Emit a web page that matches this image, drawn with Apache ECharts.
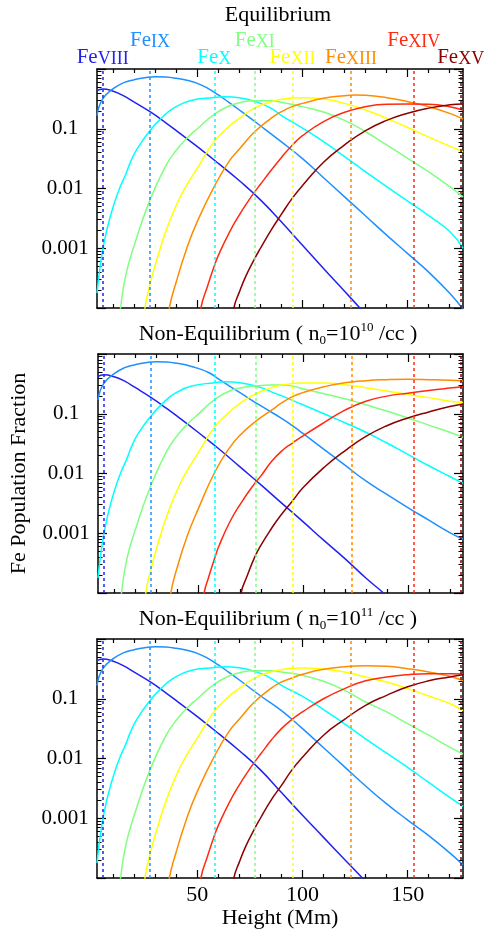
<!DOCTYPE html>
<html><head><meta charset="utf-8">
<script src="https://cdn.jsdelivr.net/npm/echarts@6/dist/echarts.min.js"></script>
<style>html,body{margin:0;padding:0;background:#fff}#chart{width:486px;height:931px}</style>
</head><body><div id="chart"></div>
<script>
// ---------------- data (x = height in Mm, second value = log10 of population fraction) -------------
const ionNumerals = ['VIII','IX','X','XI','XII','XIII','XIV','XV'];
const ionColors = ['#2222f0','#1e90ff','#00ffff','#80ff80','#ffff00','#ff8c00','#ff2a10','#8b0000'];
const formationHeights = [5.0, 27.5, 58.1, 77.3, 95.2, 123.1, 152.9, 175.2];
const labelUpperRow = [false, true, false, true, false, false, true, false];

const xMajorTicks = [50, 100, 150];
const xMinorTicks = [10,20,30,40,60,70,80,90,110,120,130,140,160,170];
const yMajorTicks = [1e-4, 1e-3, 1e-2, 1e-1, 1];
const yLabelValues = [0.001, 0.01, 0.1];
const yLabelTexts = ['0.001', '0.01', '0.1'];

// Panel 1 : Equilibrium
const eq_FeVIII = [[2.3,-0.363],[5,-0.335],[10,-0.373],[15,-0.45],[20,-0.555],[27.5,-0.715],[35,-0.90],[40,-1.03],[50,-1.30],[60,-1.58],[70,-1.87],[80,-2.19],[90,-2.56],[100,-2.95],[110,-3.34],[120,-3.72],[127.3,-4.0],[132,-4.18]];
const eq_FeIX = [[2.3,-0.78],[5,-0.50],[10,-0.33],[15,-0.229],[20,-0.179],[25,-0.145],[30,-0.128],[35,-0.134],[40,-0.156],[45,-0.19],[50,-0.24],[55,-0.324],[60,-0.435],[65,-0.558],[70,-0.686],[80,-0.95],[90,-1.22],[100,-1.50],[110,-1.82],[120,-2.14],[130,-2.46],[140,-2.78],[150,-3.09],[160,-3.40],[170,-3.755],[176.3,-4.02]];
const eq_FeX = [[2.3,-3.75],[4,-3.25],[6,-2.85],[8,-2.55],[10.4,-2.26],[13,-2.0],[16,-1.76],[18.3,-1.55],[21.5,-1.33],[27.5,-1.03],[33,-0.82],[38.9,-0.65],[46.5,-0.53],[58,-0.475],[63,-0.463],[70,-0.48],[80,-0.575],[87,-0.70],[90,-0.78],[100,-0.99],[110,-1.216],[120,-1.467],[130,-1.72],[140,-1.97],[150,-2.21],[160,-2.455],[170,-2.72],[176.3,-3.0]];
const eq_FeXI = [[12,-4.5],[13.5,-4.0],[16,-3.45],[20,-2.95],[27.5,-2.19],[35,-1.62],[40,-1.36],[45,-1.16],[50,-1.0],[58,-0.76],[65,-0.62],[70,-0.565],[77,-0.53],[85,-0.53],[90,-0.555],[100,-0.63],[110,-0.72],[120,-0.86],[130,-1.05],[140,-1.27],[150,-1.495],[160,-1.72],[170,-1.97],[176.3,-2.14]];
const eq_FeXII = [[23.5,-4.6],[25.1,-4.0],[27.5,-3.6],[30,-3.28],[35,-2.72],[40,-2.28],[45,-1.94],[50,-1.66],[58,-1.216],[65,-0.965],[70,-0.826],[77,-0.658],[85,-0.55],[90,-0.508],[95,-0.485],[100,-0.48],[110,-0.502],[120,-0.575],[130,-0.686],[140,-0.826],[150,-0.98],[160,-1.14],[170,-1.29],[176.3,-1.385]];
const eq_FeXIII = [[35,-4.5],[36.7,-4.0],[40,-3.56],[45,-3.0],[50,-2.55],[58,-1.97],[65,-1.55],[70,-1.34],[77,-1.06],[85,-0.826],[90,-0.714],[95,-0.63],[100,-0.575],[110,-0.491],[120,-0.446],[125,-0.435],[130,-0.44],[140,-0.48],[150,-0.547],[160,-0.63],[170,-0.742],[176.3,-0.837]];
const eq_FeXIV = [[50,-4.6],[51.7,-4.0],[55,-3.62],[58,-3.30],[60,-3.12],[65,-2.75],[70,-2.44],[75,-2.17],[77,-2.07],[80,-1.93],[85,-1.70],[90,-1.48],[95,-1.28],[100,-1.116],[110,-0.88],[120,-0.725],[130,-0.63],[140,-0.59],[150,-0.586],[160,-0.59],[170,-0.63],[176.3,-0.686]];
const eq_FeXV = [[66,-4.5],[67.4,-4.0],[70,-3.73],[73,-3.47],[77,-3.19],[80,-3.0],[85,-2.70],[90,-2.43],[95,-2.17],[100,-1.95],[110,-1.56],[120,-1.27],[130,-1.03],[140,-0.86],[150,-0.74],[160,-0.655],[170,-0.60],[176.3,-0.585]];

// Panel 2 : Non-Equilibrium n0 = 1e10 /cc
const ne10_FeVIII = [[2.3,-0.375],[5,-0.346],[10,-0.38],[15,-0.455],[20,-0.56],[27.5,-0.725],[35,-0.91],[40,-1.04],[50,-1.31],[60,-1.59],[70,-1.89],[80,-2.19],[90,-2.50],[100,-2.806],[110,-3.12],[120,-3.425],[130,-3.75],[138.4,-4.0],[142,-4.12]];
const ne10_FeIX = [[2.3,-0.77],[5,-0.497],[10,-0.33],[15,-0.229],[20,-0.179],[25,-0.145],[30,-0.128],[35,-0.134],[40,-0.156],[45,-0.19],[50,-0.24],[55,-0.31],[60,-0.424],[65,-0.536],[70,-0.647],[80,-0.87],[90,-1.08],[95,-1.20],[100,-1.33],[110,-1.595],[120,-1.86],[130,-2.125],[140,-2.35],[150,-2.57],[160,-2.78],[170,-2.99],[176.3,-3.10]];
const ne10_FeX = [[2.3,-3.75],[4,-3.25],[6,-2.85],[8,-2.55],[10.4,-2.26],[13,-2.0],[16,-1.76],[18.3,-1.55],[21.5,-1.33],[27.5,-1.04],[33,-0.83],[38.9,-0.66],[46.5,-0.54],[58,-0.48],[63,-0.465],[70,-0.48],[80,-0.563],[87,-0.664],[90,-0.70],[100,-0.85],[110,-1.00],[120,-1.15],[130,-1.31],[140,-1.49],[150,-1.68],[160,-1.87],[170,-2.05],[176.3,-2.165]];
const ne10_FeXI = [[12,-4.5],[13.5,-4.0],[16,-3.44],[20,-2.95],[27.5,-2.20],[35,-1.63],[40,-1.37],[45,-1.17],[50,-1.01],[58,-0.76],[65,-0.62],[70,-0.569],[77,-0.536],[85,-0.52],[90,-0.52],[95,-0.536],[100,-0.58],[110,-0.664],[120,-0.748],[130,-0.85],[140,-0.955],[150,-1.07],[160,-1.19],[170,-1.31],[176.3,-1.395]];
const ne10_FeXII = [[23.5,-4.6],[25.1,-4.0],[27.5,-3.61],[30,-3.28],[35,-2.72],[40,-2.28],[45,-1.94],[50,-1.66],[58,-1.216],[65,-0.97],[70,-0.826],[77,-0.675],[85,-0.563],[90,-0.52],[100,-0.485],[110,-0.485],[120,-0.513],[130,-0.563],[140,-0.62],[150,-0.675],[160,-0.73],[170,-0.79],[176.3,-0.81]];
const ne10_FeXIII = [[35.3,-4.5],[37,-4.0],[40,-3.58],[45,-3.03],[50,-2.60],[58,-1.975],[65,-1.57],[70,-1.36],[77,-1.14],[85,-0.94],[90,-0.815],[95,-0.714],[100,-0.647],[110,-0.547],[120,-0.48],[130,-0.446],[140,-0.43],[150,-0.424],[160,-0.43],[170,-0.44],[176.3,-0.452]];
const ne10_FeXIV = [[51.3,-4.5],[52.9,-4.0],[55,-3.74],[58,-3.41],[60,-3.21],[65,-2.82],[70,-2.52],[77,-2.165],[80,-2.04],[85,-1.80],[90,-1.62],[95,-1.49],[100,-1.37],[110,-1.15],[120,-0.94],[130,-0.79],[140,-0.705],[150,-0.655],[160,-0.61],[170,-0.57],[176.3,-0.547]];
const ne10_FeXV = [[69,-4.5],[70.5,-4.0],[73,-3.75],[77,-3.40],[80,-3.20],[85,-2.92],[89,-2.72],[95,-2.46],[100,-2.24],[110,-1.90],[120,-1.62],[130,-1.38],[140,-1.20],[150,-1.07],[160,-0.97],[170,-0.88],[176.3,-0.837]];

// Panel 3 : Non-Equilibrium n0 = 1e11 /cc
const ne11_FeVIII = [[2.3,-0.363],[5,-0.335],[10,-0.373],[15,-0.45],[20,-0.555],[27.5,-0.715],[35,-0.90],[40,-1.03],[50,-1.30],[60,-1.58],[70,-1.87],[80,-2.19],[90,-2.57],[100,-2.95],[110,-3.32],[120,-3.69],[128.5,-4.0],[132,-4.13]];
const ne11_FeIX = [[2.3,-0.78],[5,-0.50],[10,-0.33],[15,-0.229],[20,-0.179],[25,-0.145],[30,-0.128],[35,-0.134],[40,-0.156],[45,-0.19],[50,-0.24],[55,-0.324],[60,-0.435],[65,-0.558],[70,-0.686],[80,-0.95],[90,-1.20],[100,-1.50],[110,-1.82],[120,-2.14],[130,-2.46],[140,-2.76],[150,-3.03],[160,-3.29],[170,-3.58],[176.3,-3.78]];
const ne11_FeX = [[2.3,-3.75],[4,-3.25],[6,-2.85],[8,-2.55],[10.4,-2.26],[13,-2.0],[16,-1.76],[18.3,-1.55],[21.5,-1.33],[27.5,-1.03],[33,-0.82],[38.9,-0.65],[46.5,-0.53],[58,-0.475],[63,-0.463],[70,-0.48],[80,-0.575],[87,-0.70],[90,-0.775],[100,-0.96],[110,-1.18],[120,-1.42],[130,-1.67],[140,-1.91],[150,-2.15],[160,-2.40],[170,-2.65],[176.3,-2.80]];
const ne11_FeXI = [[12,-4.5],[13.5,-4.0],[16,-3.45],[20,-2.95],[27.5,-2.19],[35,-1.62],[40,-1.36],[45,-1.16],[50,-1.0],[58,-0.76],[65,-0.62],[70,-0.565],[77,-0.53],[85,-0.53],[90,-0.552],[100,-0.608],[110,-0.708],[120,-0.86],[130,-1.054],[140,-1.22],[150,-1.417],[160,-1.61],[170,-1.81],[176.3,-1.925]];
const ne11_FeXII = [[23.5,-4.6],[25.1,-4.0],[27.5,-3.6],[30,-3.28],[35,-2.72],[40,-2.28],[45,-1.94],[50,-1.66],[58,-1.216],[65,-0.965],[70,-0.826],[77,-0.658],[85,-0.55],[90,-0.513],[95,-0.49],[100,-0.485],[110,-0.502],[120,-0.552],[130,-0.636],[140,-0.72],[150,-0.83],[160,-0.954],[170,-1.08],[176.3,-1.20]];
const ne11_FeXIII = [[35,-4.5],[36.7,-4.0],[40,-3.56],[45,-3.0],[50,-2.55],[58,-1.97],[65,-1.55],[70,-1.34],[77,-1.06],[85,-0.826],[90,-0.72],[95,-0.653],[100,-0.59],[110,-0.508],[120,-0.463],[130,-0.446],[140,-0.457],[150,-0.497],[160,-0.552],[170,-0.625],[176.3,-0.70]];
const ne11_FeXIV = [[50,-4.6],[51.7,-4.0],[55,-3.62],[58,-3.30],[60,-3.12],[65,-2.75],[70,-2.44],[75,-2.17],[77,-2.07],[80,-1.93],[85,-1.70],[90,-1.50],[95,-1.345],[100,-1.22],[110,-1.0],[120,-0.83],[130,-0.70],[140,-0.636],[150,-0.597],[160,-0.58],[170,-0.58],[176.3,-0.586]];
const ne11_FeXV = [[66,-4.5],[67.4,-4.0],[70,-3.73],[73,-3.47],[77,-3.19],[80,-3.0],[85,-2.70],[90,-2.45],[95,-2.19],[100,-1.98],[110,-1.61],[120,-1.345],[130,-1.11],[140,-0.943],[150,-0.80],[160,-0.70],[170,-0.635],[176.3,-0.597]];

const panelTitles = [
  '{t|Equilibrium}',
  '{t|Non-Equilibrium ( n}{sub|0}{t|=10}{sup|10}{t| /cc )}',
  '{t|Non-Equilibrium ( n}{sub|0}{t|=10}{sup|11}{t| /cc )}'
];
const panelCurves = [
  [eq_FeVIII, eq_FeIX, eq_FeX, eq_FeXI, eq_FeXII, eq_FeXIII, eq_FeXIV, eq_FeXV],
  [ne10_FeVIII, ne10_FeIX, ne10_FeX, ne10_FeXI, ne10_FeXII, ne10_FeXIII, ne10_FeXIV, ne10_FeXV],
  [ne11_FeVIII, ne11_FeIX, ne11_FeX, ne11_FeXI, ne11_FeXII, ne11_FeXIII, ne11_FeXIV, ne11_FeXV]
];

// ---------------- layout / styling ----------------
const FONT = '"Liberation Serif", "Times New Roman", serif';
const X_MIN = 2.3, X_MAX = 176.3;
const gridTops = [69, 354, 639];
const titleTops = [2.5, 321.5, 606.5];
const GRID_LEFT = 97, GRID_W = 366, GRID_H = 239;

const yMinorTicks = [];
for (let d = -4; d < 0; d++) for (let m = 2; m <= 9; m++) yMinorTicks.push(m * Math.pow(10, d));

const chart = echarts.init(document.getElementById('chart'), null, {renderer: 'canvas'});

const richTitle = {
  t: {fontSize: 22, fontFamily: FONT, color: '#000', lineHeight: 26},
  sub: {fontSize: 13, fontFamily: FONT, color: '#000', lineHeight: 10, verticalAlign: 'bottom'},
  sup: {fontSize: 13, fontFamily: FONT, color: '#000', lineHeight: 17, verticalAlign: 'top'}
};

const grids = [], xAxes = [], yAxes = [], series = [], titles = [];
const black = {color: '#000', width: 1.5};

function yLabelFormatter(v) {
  let best = 0, bd = 1e9;
  yLabelValues.forEach((lv, i) => { const d = Math.abs(Math.log10(v) - Math.log10(lv)); if (d < bd) { bd = d; best = i; } });
  return yLabelTexts[best];
}

for (let p = 0; p < 3; p++) {
  grids.push({left: GRID_LEFT, top: gridTops[p], width: GRID_W, height: GRID_H, show: false});
  titles.push({text: panelTitles[p], left: 278, top: titleTops[p], textAlign: 'center', padding: 0,
    textStyle: {fontSize: 22, fontWeight: 'normal', fontFamily: FONT, color: '#000', rich: richTitle}});
  ['bottom', 'top'].forEach(pos => {
    xAxes.push({gridIndex: p, type: 'value', min: X_MIN, max: X_MAX, position: pos,
      axisLine: {show: true, onZero: false, lineStyle: black},
      axisTick: {show: true, inside: true, length: 8, customValues: xMajorTicks, lineStyle: {color: '#000', width: 1.2}},
      axisLabel: {show: pos === 'bottom' && p === 2, customValues: xMajorTicks, margin: 6, fontSize: 22, fontFamily: FONT, color: '#000'},
      splitLine: {show: false},
      name: (pos === 'bottom' && p === 2) ? 'Height (Mm)' : '',
      nameLocation: 'middle', nameGap: 27,
      nameTextStyle: {fontSize: 22, fontFamily: FONT, color: '#000'}});
    xAxes.push({gridIndex: p, type: 'value', min: X_MIN, max: X_MAX, position: pos,
      axisLine: {show: false, onZero: false},
      axisTick: {show: true, inside: true, length: 4, customValues: xMinorTicks, lineStyle: {color: '#000', width: 1.2}},
      axisLabel: {show: false}, splitLine: {show: false}});
  });
  ['left', 'right'].forEach(pos => {
    yAxes.push({gridIndex: p, type: 'log', logBase: 10, min: 1e-4, max: 1, position: pos,
      axisLine: {show: true, onZero: false, lineStyle: black},
      axisTick: {show: true, inside: true, length: 9, customValues: yMajorTicks, lineStyle: {color: '#000', width: 1.2}},
      axisLabel: {show: pos === 'left', customValues: yLabelValues, formatter: yLabelFormatter, align: 'center', margin: 32,
        fontSize: 21, fontFamily: FONT, color: '#000'},
      splitLine: {show: false},
      name: (pos === 'left' && p === 1) ? 'Fe Population Fraction' : '',
      nameLocation: 'middle', nameGap: 68, nameRotate: 90,
      nameTextStyle: {fontSize: 22, fontFamily: FONT, color: '#000'}});
    yAxes.push({gridIndex: p, type: 'log', logBase: 10, min: 1e-4, max: 1, position: pos,
      axisLine: {show: false, onZero: false},
      axisTick: {show: true, inside: true, length: 4.5, customValues: yMinorTicks, lineStyle: {color: '#000', width: 1}},
      axisLabel: {show: false}, splitLine: {show: false}});
  });

  panelCurves[p].forEach((curve, k) => {
    const color = ionColors[k];
    const lineLabel = p === 0 ? {
      show: true, position: 'end', distance: labelUpperRow[k] ? 18 : 1,
      formatter: '{fe|Fe}{num|' + ionNumerals[k] + '}',
      rich: {
        fe: {fontSize: 21, fontFamily: FONT, color: color, lineHeight: 22, verticalAlign: 'bottom'},
        num: {fontSize: 18, fontFamily: FONT, color: color, lineHeight: 20, verticalAlign: 'bottom'}
      }
    } : {show: false};
    series.push({
      type: 'line', name: 'Fe' + ionNumerals[k] + '-' + p,
      xAxisIndex: 4 * p, yAxisIndex: 4 * p,
      data: curve.map(([h, lg]) => [h, Math.pow(10, lg)]),
      showSymbol: false, smooth: 0.5, clip: true,
      lineStyle: {color: color, width: 1.5}, itemStyle: {color: color},
      markLine: {silent: true, animation: false, symbol: ['none', 'none'],
        lineStyle: {color: color, type: [3, 3], width: 1.5},
        label: lineLabel,
        emphasis: {disabled: true},
        data: [{xAxis: formationHeights[k]}]}
    });
  });
}

chart.setOption({
  animation: false,
  backgroundColor: '#fff',
  title: titles,
  grid: grids,
  xAxis: xAxes,
  yAxis: yAxes,
  series: series
});
</script></body></html>
